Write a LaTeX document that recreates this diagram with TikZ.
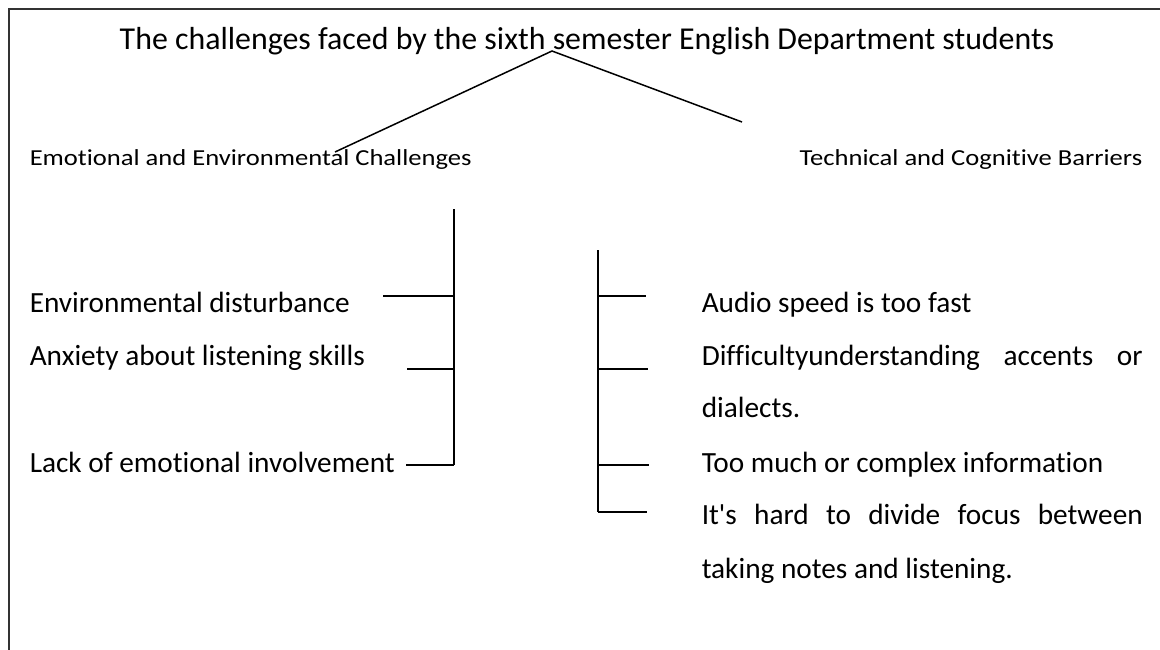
\documentclass[tikz,border=0pt]{standalone}
\usepackage{fontspec}
\setmainfont{Carlito}[Ligatures={TeXOff,NoCommon}]
\newfontfamily\headfont{Carlito}[Ligatures={TeXOff,NoCommon}, FakeStretch=1.16]

\begin{document}
\begin{tikzpicture}[
    x=1bp, y=-1bp, line width=1.5bp,
    title/.style={anchor=base, inner sep=0pt, font=\fontsize{32}{38}\selectfont},
    head/.style={anchor=base west, inner sep=0pt, font=\headfont\fontsize{23}{28}\selectfont},
    item/.style={anchor=base west, inner sep=0pt, font=\fontsize{29.4}{35}\selectfont}
]
  \useasboundingbox (0,0) rectangle (1160,650);
  % page frame, cut off at the right and bottom
  \draw[line width=2bp, black!80] (9,650) -- (9,9) -- (1160,9);

  \node[title] (title) at (587,50) {The challenges faced by the sixth semester English Department students};
  \node[head] (emo) at (29,166) {Emotional and Environmental Challenges};
  \node[head, anchor=base east] (tech) at (1143,166) {Technical and Cognitive Barriers};

  % split under the title
  \coordinate (apex) at (552,51);
  \coordinate (emoEnd) at (335,152);
  \coordinate (techEnd) at (742,122);
  \draw (emoEnd) -- (apex) -- (techEnd);

  % emotional side
  \node[item] (envdist) at (29,312) {Environmental disturbance};
  \node[item] (anxiety) at (29,365) {Anxiety about listening skills};
  \node[item] (lackemo) at (29,472) {Lack of emotional involvement};
  \draw (454,209) coordinate (emoTop) -- (454,465) coordinate (emoBot);
  \foreach \y/\x in {296/383, 369/407, 465/406}
    \draw (\x,\y) -- (454,\y);

  % technical side
  \node[item] (speed) at (701,312) {Audio speed is too fast};
  \node[item] (accent) at (701,365) {\makebox[441bp][s]{Difficultyunderstanding accents or}};
  \node[item] (accentb) at (701,417) {dialects.};
  \node[item] (info) at (701,472) {Too much or complex information};
  \node[item] (focus) at (701,524) {\makebox[441bp][s]{It's hard to divide focus between}};
  \node[item] (focusb) at (701,578) {taking notes and listening.};
  \draw (598,250) coordinate (techTop) -- (598,512) coordinate (techBot);
  \foreach \y/\x in {296/646, 369/648, 465/649, 512/647}
    \draw (598,\y) -- (\x,\y);
\end{tikzpicture}
\end{document}
